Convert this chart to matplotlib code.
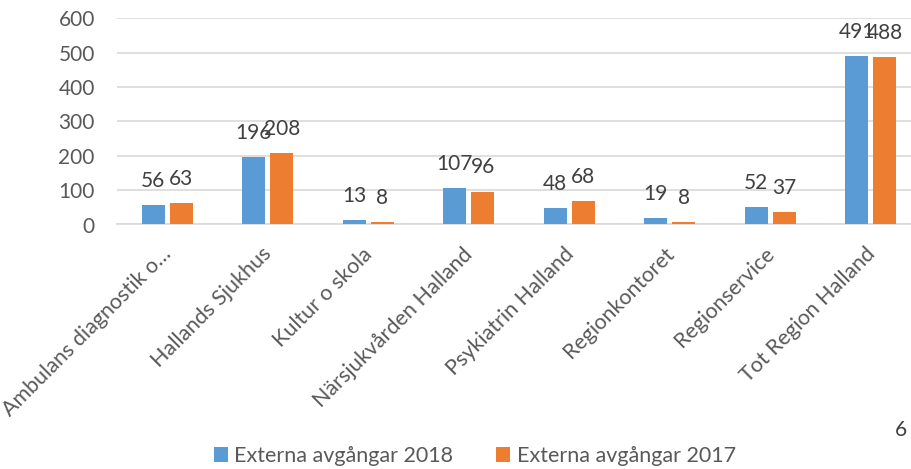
import numpy as np
import matplotlib.pyplot as plt
import matplotlib.transforms as mtransforms

categories = ["Ambulans diagnostik o…", "Hallands Sjukhus", "Kultur o skola",
              "Närsjukvården Halland", "Psykiatrin Halland", "Regionkontoret",
              "Regionservice", "Tot Region Halland"]
avg_2018 = [56, 196, 13, 107, 48, 19, 52, 491]
avg_2017 = [63, 208, 8, 96, 68, 8, 37, 488]
series_names = ["Externa avgångar 2018", "Externa avgångar 2017"]

blue = "#5b9bd5"
orange = "#ed7d31"
txt = "#595959"

plt.rcParams['font.family'] = ['Lato', 'DejaVu Sans']

fig = plt.figure(figsize=(9.12, 4.69), dpi=100)
ax = fig.add_axes([117 / 912, 1 - 224.5 / 469, 1 - 117 / 912, (224.5 - 18.3) / 469])

x = np.arange(len(categories))
w = 0.23
off = 0.14
b1 = ax.bar(x - off, avg_2018, w, color=blue, label=series_names[0], zorder=3)
b2 = ax.bar(x + off, avg_2017, w, color=orange, label=series_names[1], zorder=3)

# data labels above the bars (they overlap in the original too)
for xs, vals in [(x - off, avg_2018), (x + off, avg_2017)]:
    for xi, v in zip(xs, vals):
        ax.annotate(str(v), (xi, v), xytext=(0, 13), textcoords="offset points",
                    ha="center", va="baseline", fontsize=15, color="#404040")

ax.set_ylim(0, 600)
ax.set_xlim(-0.5, 7.41)
ax.set_yticks(range(0, 601, 100))
ax.yaxis.grid(True, color="#d9d9d9", linewidth=1.2, zorder=0)
ax.set_axisbelow(True)
for s in ["top", "right", "left"]:
    ax.spines[s].set_visible(False)
ax.spines["bottom"].set_color("#d9d9d9")
ax.spines["bottom"].set_linewidth(1.2)
ax.tick_params(axis="both", length=0, labelsize=15, labelcolor=txt)
ax.tick_params(axis="y", pad=16)
ax.tick_params(axis="x", pad=14, labelsize=15.5)

ax.set_xticks(x)
ax.set_xticklabels(categories, rotation=45, ha="right", va="top", rotation_mode="anchor")
shift = mtransforms.ScaledTranslation(-6 / 100, 0, fig.dpi_scale_trans)
for lab in ax.get_xticklabels():
    lab.set_transform(lab.get_transform() + shift)

fig.legend(handles=[b1, b2], loc="center", bbox_to_anchor=(475 / 912, 1 - 456 / 469),
           ncol=2, frameon=False, fontsize=15.5, labelcolor=txt,
           handlelength=0.65, handleheight=0.65, handletextpad=0.3, columnspacing=2.0)

fig.text(0.995, 1 - 430 / 469, "6", ha="right", va="center", fontsize=15, color="#404040")

fig.savefig("out.png", dpi=100)
